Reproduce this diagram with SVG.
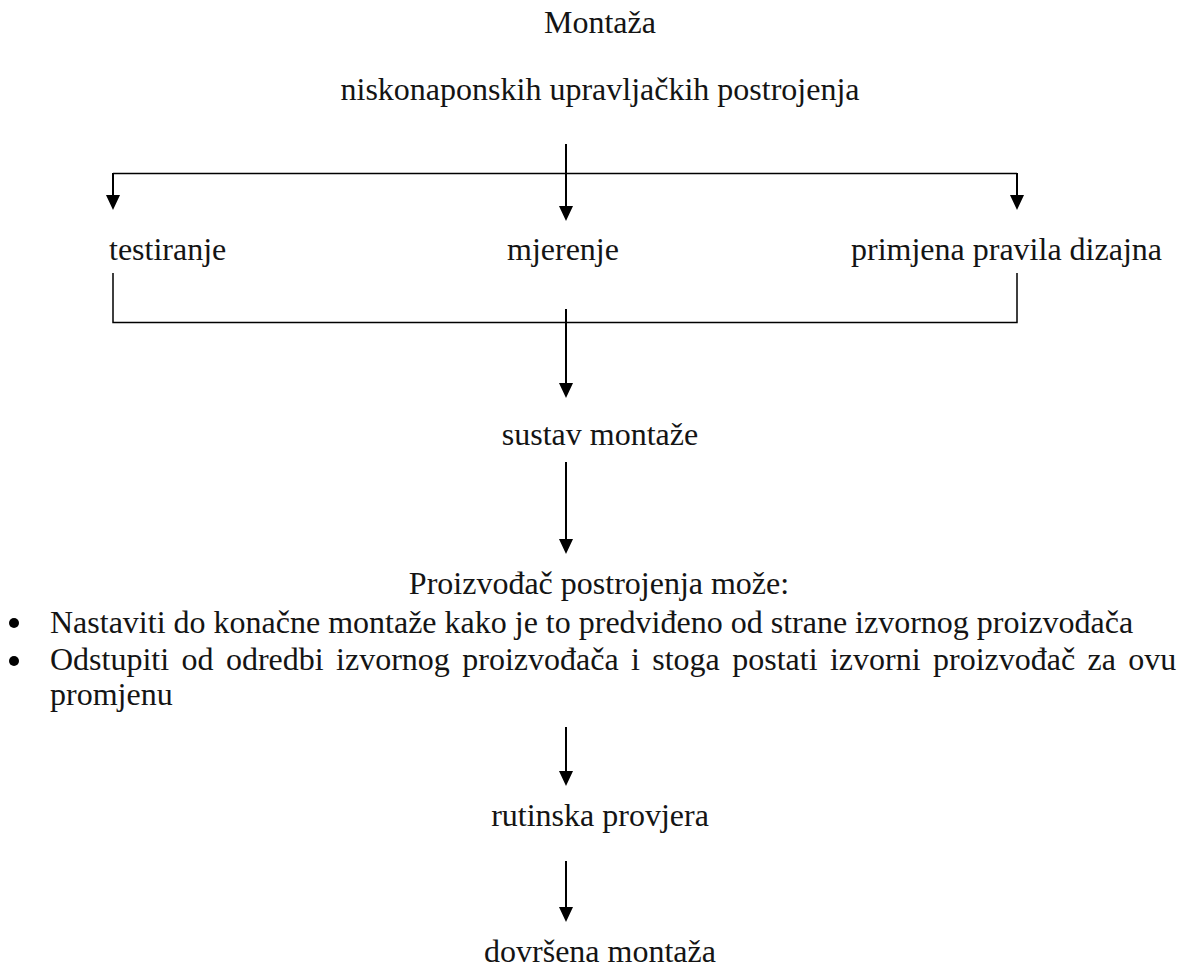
<svg xmlns="http://www.w3.org/2000/svg" width="1191" height="968" viewBox="0 0 1191 968" font-family="Liberation Serif, Times New Roman, serif">
<style>
text{font-family:'Liberation Serif',serif;font-size:32px;fill:#141414}
.c{text-anchor:middle}
.ln{stroke:#000;stroke-width:1.5;fill:none}
.ar{stroke:#000;stroke-width:2;fill:none}
</style>
<defs>
<marker id="ah" viewBox="0 0 15 14" refX="7" refY="7" markerWidth="15" markerHeight="14" markerUnits="userSpaceOnUse" orient="auto">
<path d="M0,0 L15,7 L0,14 z" fill="#000"/>
</marker>
</defs>
<rect width="1191" height="968" fill="#fff"/>
<g id="connectors">
<path class="ln" d="M113,173.5 H1017"/>
<path class="ar" d="M113,173 V202" marker-end="url(#ah)"/>
<path class="ar" d="M1017,173 V202" marker-end="url(#ah)"/>
<path class="ar" d="M566,144 V213" marker-end="url(#ah)"/>
<path class="ln" d="M113,273 V322.5 H1017 V273"/>
<path class="ar" d="M566,309 V390" marker-end="url(#ah)"/>
<path class="ar" d="M566,462 V546" marker-end="url(#ah)"/>
<path class="ar" d="M566,727 V778" marker-end="url(#ah)"/>
<path class="ar" d="M566,861 V914" marker-end="url(#ah)"/>
</g>
<g id="title"><text class="c" x="600" y="33" font-family="Liberation Serif">Montaža</text></g>
<g id="subtitle"><text class="c" x="600" y="100" font-family="Liberation Serif">niskonaponskih upravljačkih postrojenja</text></g>
<g id="testiranje"><text x="109" y="260" font-family="Liberation Serif">testiranje</text></g>
<g id="mjerenje"><text x="507" y="260" font-family="Liberation Serif">mjerenje</text></g>
<g id="primjena"><text x="851" y="260" font-family="Liberation Serif">primjena pravila dizajna</text></g>
<g id="sustav"><text class="c" x="600" y="445" font-family="Liberation Serif">sustav montaže</text></g>
<g id="proizvodjac">
<text class="c" x="599" y="594" font-family="Liberation Serif">Proizvođač postrojenja može:</text>
<circle cx="14" cy="623" r="5" fill="#000"/>
<text x="50" y="633" font-family="Liberation Serif">Nastaviti do konačne montaže kako je to predviđeno od strane izvornog proizvođača</text>
<circle cx="14" cy="661" r="5" fill="#000"/>
<text x="50" y="670" word-spacing="4.4" font-family="Liberation Serif">Odstupiti od odredbi izvornog proizvođača i stoga postati izvorni proizvođač za ovu</text>
<text x="50" y="705" font-family="Liberation Serif">promjenu</text>
</g>
<g id="rutinska"><text class="c" x="600" y="826" font-family="Liberation Serif">rutinska provjera</text></g>
<g id="dovrsena"><text class="c" x="600" y="962" font-family="Liberation Serif">dovršena montaža</text></g>
</svg>
